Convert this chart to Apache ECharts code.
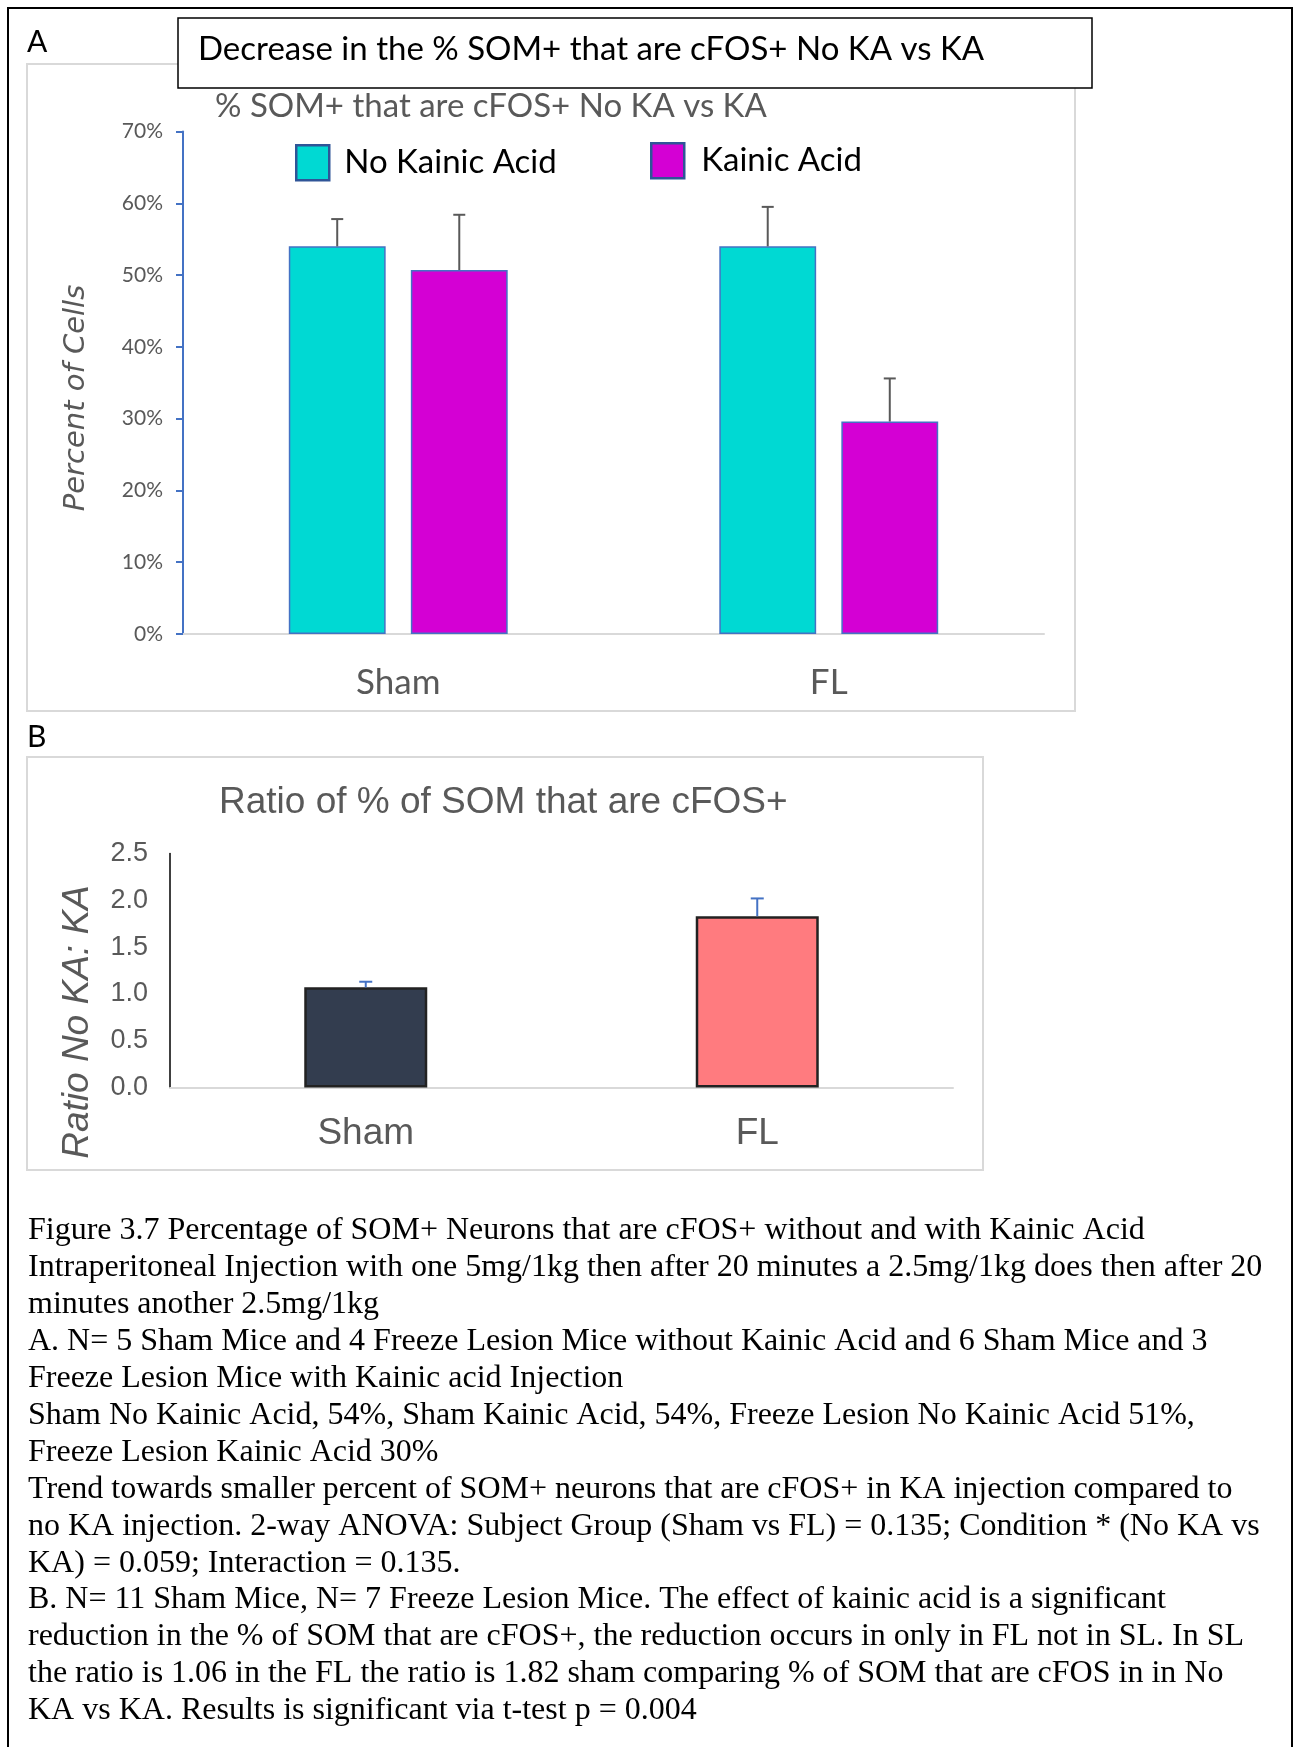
<!DOCTYPE html>
<html>
<head>
<meta charset="utf-8">
<script src="https://cdn.jsdelivr.net/npm/echarts@6/dist/echarts.min.js"></script>
<style>
  html, body { margin: 0; padding: 0; background: #fff; }
  #main { width: 1297px; height: 1747px; }
</style>
</head>
<body>
<div id="main"></div>
<script>
// panel A data (percent of SOM+ cells that are cFOS+)
let groupsA = ["Sham", "FL"];
let noKA = [54.0, 54.0];
let noKAErr = [3.8, 5.5];
let withKA = [50.7, 29.6];
let withKAErr = [7.7, 6.0];
let ticksA = [0, 10, 20, 30, 40, 50, 60, 70];

// panel B data (ratio No KA : KA)
let groupsB = ["Sham", "FL"];
let ratio = [1.07, 1.83];
let ratioErr = [0.06, 0.19];
let barColorsB = ["#333D4F", "#FF7B7F"];

let captionLines = [
  "Figure 3.7 Percentage of SOM+ Neurons that are cFOS+ without and with Kainic Acid",
  "Intraperitoneal Injection with one 5mg/1kg then after 20 minutes a 2.5mg/1kg does then after 20",
  "minutes another 2.5mg/1kg",
  "A. N= 5 Sham Mice and 4 Freeze Lesion Mice without Kainic Acid and 6 Sham Mice and 3",
  "Freeze Lesion Mice with Kainic acid Injection",
  "Sham No Kainic Acid, 54%, Sham Kainic Acid, 54%, Freeze Lesion No Kainic Acid 51%,",
  "Freeze Lesion Kainic Acid 30%",
  "Trend towards smaller percent of SOM+ neurons that are cFOS+ in KA injection compared to",
  "no KA injection. 2-way ANOVA: Subject Group (Sham vs FL) = 0.135; Condition * (No KA vs",
  "KA) = 0.059; Interaction = 0.135.",
  "B. N= 11 Sham Mice, N= 7 Freeze Lesion Mice. The effect of kainic acid is a significant",
  "reduction in the % of SOM that are cFOS+, the reduction occurs in only in FL not in SL. In SL",
  "the ratio is 1.06 in the FL the ratio is 1.82 sham comparing % of SOM that are cFOS in in No",
  "KA vs KA. Results is significant via t-test p = 0.004"
];

let calibri = "Lato, 'Open Sans', sans-serif";
let arial = "'Liberation Sans', Arial, sans-serif";

let chart = echarts.init(document.getElementById("main"));

// error bar drawer; shift = offset of the bar inside its category, as share of band
function errorBar(vals, errs, shift, color, cap) {
  return function (params, api) {
    let i = api.value(0);
    let base = api.coord([i, vals[i]]);
    let top = api.coord([i, vals[i] + errs[i]]);
    let band = api.size([1, 0])[0];
    let x = base[0] + band * shift;
    let style = { stroke: color, lineWidth: 2 };
    return {
      type: "group",
      children: [
        { type: "line", shape: { x1: x, y1: base[1], x2: x, y2: top[1] }, style: style },
        { type: "line", shape: { x1: x - cap / 2, y1: top[1], x2: x + cap / 2, y2: top[1] }, style: style }
      ]
    };
  };
}

// bar width 22.5% of band, gap 26% of bar -> centre offset
let bwA = 0.225, gapA = 0.225 * 0.26;
let offA = (bwA + gapA) / 2;

let captionGraphics = captionLines.map(function (line, k) {
  return {
    type: "text",
    left: 28,
    top: 1215 + k * 36.9,
    style: { text: line, font: "32px 'Liberation Serif', 'Times New Roman', serif", fill: "#000" }
  };
});

let option = {
  animation: false,
  backgroundColor: "#fff",
  graphic: [
    // outer black frame
    { type: "rect", shape: { x: 8, y: 8, width: 1284, height: 1800 }, style: { fill: "none", stroke: "#000", lineWidth: 2 } },
    // chart frames
    { type: "rect", shape: { x: 27, y: 64, width: 1048, height: 647 }, style: { fill: "none", stroke: "#D9D9D9", lineWidth: 2 } },
    { type: "rect", shape: { x: 27, y: 757, width: 956, height: 413 }, style: { fill: "none", stroke: "#D9D9D9", lineWidth: 2 } },
    // title box
    { type: "rect", z: 10, shape: { x: 178, y: 18, width: 914, height: 70 }, style: { fill: "#fff", stroke: "#000", lineWidth: 1.5 } },
    { type: "text", z: 11, left: 198, top: 33, style: { text: "Decrease in the % SOM+ that are cFOS+ No KA vs KA", font: "33px " + calibri, fill: "#000" } },
    { type: "text", left: 27, top: 27, style: { text: "A", font: "30px " + calibri, fill: "#000" } },
    { type: "text", left: 27, top: 722, style: { text: "B", font: "30px " + calibri, fill: "#000" } },
    { type: "text", left: 215, top: 90, style: { text: "% SOM+ that are cFOS+ No KA vs KA", font: "33px " + calibri, fill: "#595959" } },
    { type: "text", left: 219, top: 784, style: { text: "Ratio of % of SOM that are cFOS+", font: "37px " + arial, fill: "#595959" } },
    // rotated axis names
    { type: "text", x: 76, y: 398, rotation: Math.PI / 2,
      style: { text: "Percent of Cells", font: "italic 29px 'DejaVu Sans', Verdana, sans-serif", fill: "#595959", align: "center", verticalAlign: "middle" } },
    { type: "text", x: 78, y: 1022, rotation: Math.PI / 2,
      style: { text: "Ratio No KA: KA", font: "italic 37px " + arial, fill: "#595959", align: "center", verticalAlign: "middle" } }
  ].concat(captionGraphics),
  legend: [{
    left: 290, top: 139,
    itemWidth: 33, itemHeight: 35, itemGap: 0,
    icon: "rect",
    itemStyle: { borderColor: "#2F5597", borderWidth: 2.5 },
    textStyle: { fontFamily: calibri, fontSize: 33, color: "#000", padding: [0, 0, 0, 10] },
    data: ["No Kainic Acid"]
  }, {
    left: 645, top: 137,
    itemWidth: 33, itemHeight: 35, itemGap: 0,
    icon: "rect",
    itemStyle: { borderColor: "#2F5597", borderWidth: 2.5 },
    textStyle: { fontFamily: calibri, fontSize: 33, color: "#000", padding: [0, 0, 0, 12] },
    data: ["Kainic Acid"]
  }],
  grid: [
    { left: 183, right: 253, top: 131.5, bottom: 1113 },
    { left: 170, right: 344, top: 853.5, bottom: 659.5 }
  ],
  xAxis: [{
    gridIndex: 0,
    type: "category",
    data: groupsA,
    axisLine: { lineStyle: { color: "#D9D9D9", width: 2 } },
    axisTick: { show: false },
    axisLabel: { fontFamily: calibri, fontSize: 35, color: "#595959", margin: 31 }
  }, {
    gridIndex: 1,
    type: "category",
    data: groupsB,
    axisLine: { lineStyle: { color: "#D9D9D9", width: 2 } },
    axisTick: { show: false },
    axisLabel: { fontFamily: arial, fontSize: 37, color: "#595959", margin: 28 }
  }],
  yAxis: [{
    gridIndex: 0,
    type: "value",
    min: ticksA[0], max: ticksA[ticksA.length - 1], interval: 10,
    splitLine: { show: false },
    axisLine: { show: true, lineStyle: { color: "#4472C4", width: 2 } },
    axisTick: { show: true, length: 7, lineStyle: { color: "#4472C4", width: 2 } },
    axisLabel: { fontFamily: calibri, fontSize: 21, color: "#595959", margin: 20, formatter: "{value}%" }
  }, {
    gridIndex: 1,
    type: "value",
    min: 0, max: 2.5, interval: 0.5,
    splitLine: { show: false },
    axisLine: { show: true, lineStyle: { color: "#000", width: 1.5 } },
    axisTick: { show: false },
    axisLabel: { fontFamily: arial, fontSize: 27, color: "#595959", margin: 22,
      formatter: function (v) { return v.toFixed(1); } }
  }],
  series: [{
    name: "No Kainic Acid",
    type: "bar",
    xAxisIndex: 0, yAxisIndex: 0,
    barWidth: "22.5%",
    barGap: "26%",
    itemStyle: { color: "#00D9D3", borderColor: "#4472C4", borderWidth: 1.5 },
    data: noKA
  }, {
    name: "Kainic Acid",
    type: "bar",
    xAxisIndex: 0, yAxisIndex: 0,
    barWidth: "22.5%",
    barGap: "26%",
    itemStyle: { color: "#D400D4", borderColor: "#4472C4", borderWidth: 1.5 },
    data: withKA
  }, {
    type: "custom",
    xAxisIndex: 0, yAxisIndex: 0,
    renderItem: errorBar(noKA, noKAErr, -offA, "#595959", 12),
    data: groupsA.map(function (g, i) { return [i]; }),
    z: 5
  }, {
    type: "custom",
    xAxisIndex: 0, yAxisIndex: 0,
    renderItem: errorBar(withKA, withKAErr, offA, "#595959", 12),
    data: groupsA.map(function (g, i) { return [i]; }),
    z: 5
  }, {
    name: "Ratio",
    type: "bar",
    xAxisIndex: 1, yAxisIndex: 1,
    barWidth: 123,
    itemStyle: { borderColor: "#222", borderWidth: 2.5 },
    data: ratio.map(function (v, i) { return { value: v, itemStyle: { color: barColorsB[i] } }; })
  }, {
    type: "custom",
    xAxisIndex: 1, yAxisIndex: 1,
    renderItem: errorBar(ratio, ratioErr, 0, "#4472C4", 13),
    data: groupsB.map(function (g, i) { return [i]; }),
    z: 5
  }]
};

chart.setOption(option, true);
</script>
</body>
</html>
